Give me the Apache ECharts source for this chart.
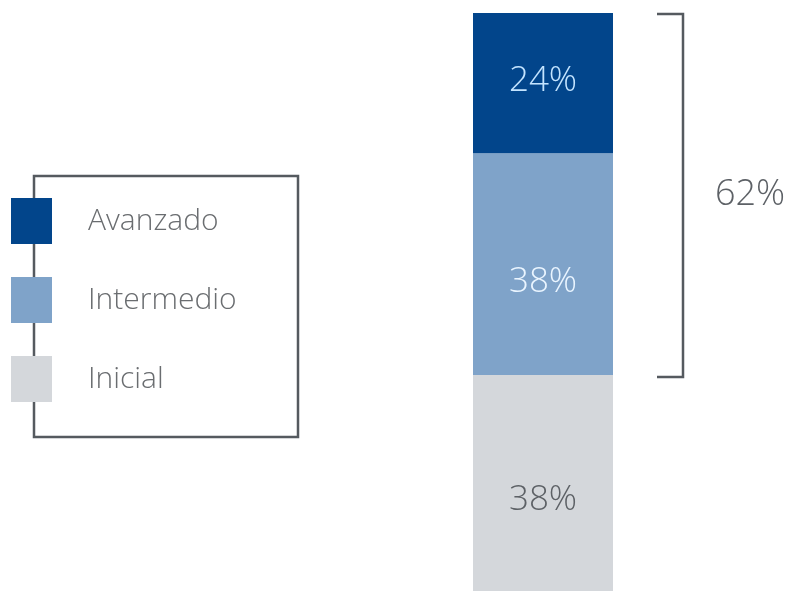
<!DOCTYPE html>
<html>
<head>
<meta charset="utf-8">
<script src="https://cdn.jsdelivr.net/npm/echarts@6/dist/echarts.min.js"></script>
<style>
  html, body { margin: 0; padding: 0; background: #fff; }
  #main { width: 793px; height: 591px; }
</style>
</head>
<body>
<div id="main"></div>
<script>
var categories = ['Nivel'];
var legendNames = ['Avanzado', 'Intermedio', 'Inicial'];
var avanzado = [24];
var intermedio = [38];
var inicial = [38];
var bracketFrom = 38;   // bracket spans Intermedio + Avanzado
var bracketTo = 100;
var bracketLabel = '62%';

var chartDom = document.getElementById('main');
var myChart = echarts.init(chartDom);

var font = '"Open Sans", "DejaVu Sans", sans-serif';

function pctLabel(color, offset) {
  return {
    show: true,
    position: 'inside',
    offset: offset,
    color: color,
    fontFamily: font,
    fontWeight: 300,
    fontSize: 35,
    formatter: function (p) { return p.value + '%'; }
  };
}

var option = {
  animation: false,
  backgroundColor: '#ffffff',
  grid: {
    left: 473,
    width: 140,
    top: 13,
    height: 584,
    outerBoundsMode: 'none'
  },
  xAxis: {
    type: 'category',
    data: categories,
    show: false
  },
  yAxis: {
    type: 'value',
    min: 0,
    max: 100,
    show: false
  },
  legend: {
    orient: 'vertical',
    left: 11,
    top: 198,
    padding: 0,
    data: legendNames,
    icon: 'rect',
    itemWidth: 41,
    itemHeight: 46,
    itemGap: 33,
    selectedMode: false,
    textStyle: {
      color: '#6a6d70',
      fontFamily: font,
      fontWeight: 300,
      fontSize: 30,
      padding: [4, 0, 0, 31]
    }
  },
  series: [
    {
      name: 'Inicial',
      type: 'bar',
      stack: 'total',
      barWidth: '100%',
      data: inicial,
      itemStyle: { color: '#d4d7db' },
      label: pctLabel('#5d6166', [0, 14])
    },
    {
      name: 'Intermedio',
      type: 'bar',
      stack: 'total',
      data: intermedio,
      itemStyle: { color: '#7fa3c9' },
      label: pctLabel('#eaf5ff', [0, 18])
    },
    {
      name: 'Avanzado',
      type: 'bar',
      stack: 'total',
      data: avanzado,
      itemStyle: { color: '#02458b' },
      label: pctLabel('#c4e4ff', [0, -2])
    }
  ]
};

option && myChart.setOption(option);

// the bracket is placed from the chart's own scale
var pTop = myChart.convertToPixel({ gridIndex: 0 }, [categories[0], bracketTo]);
var pBottom = myChart.convertToPixel({ gridIndex: 0 }, [categories[0], bracketFrom]);
var yTop = pTop[1];
var yBottom = pBottom[1];
var bx = pTop[0] + 70 + 70;

myChart.setOption({
  graphic: [
    {
      type: 'rect',
      z: 0,
      shape: { x: 34, y: 176, width: 264, height: 261 },
      style: { fill: 'none', stroke: '#555a5f', lineWidth: 2.5 }
    },
    {
      type: 'polyline',
      shape: { points: [[bx - 26, yTop + 1], [bx, yTop + 1], [bx, yBottom + 2], [bx - 26, yBottom + 2]] },
      style: { fill: 'none', stroke: '#555a5f', lineWidth: 2.5 }
    },
    {
      type: 'text',
      x: bx + 32,
      y: (yTop + yBottom) / 2 + 1,
      style: {
        text: bracketLabel,
        fill: '#5d6166',
        font: '300 36px ' + font,
        verticalAlign: 'middle',
        align: 'left'
      }
    }
  ]
});
</script>
</body>
</html>
